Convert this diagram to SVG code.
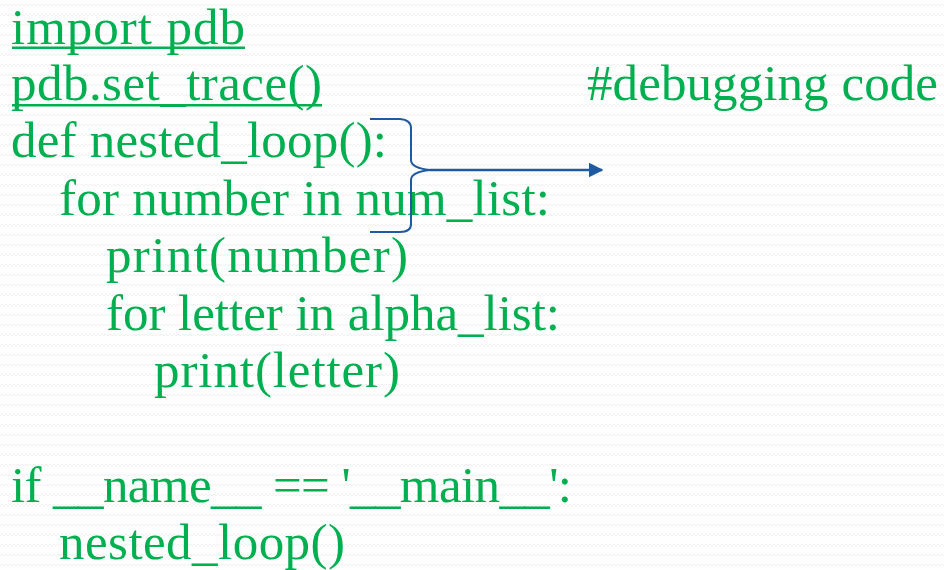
<svg xmlns="http://www.w3.org/2000/svg" width="944" height="570" viewBox="0 0 944 570">
<defs>
<pattern id="bg" width="8" height="10" patternUnits="userSpaceOnUse">
<rect width="8" height="10" fill="#ffffff"/>
<path d="M0 6 L2 4 L4 6 L6 4 L8 6" fill="none" stroke="#f0f0f0" stroke-width="1"/>
</pattern>
<marker id="arrow" viewBox="0 0 10 10" refX="9" refY="5" markerWidth="6" markerHeight="6" markerUnits="strokeWidth" orient="auto">
<path d="M0 0 L10 5 L0 10 Z" fill="#1F5AA0"/>
</marker>
<style>
.code{font-family:"Liberation Serif","Times New Roman",serif;font-size:51px;fill:#00B050;}
.ul{fill:#00B050;}
.brace{fill:none;stroke:#1F5AA0;stroke-width:2;}
.conn{fill:none;stroke:#1F5AA0;stroke-width:2.5;}
</style>
</defs>
<rect width="944" height="570" fill="url(#bg)"/>
<g id="code">
<text class="code" x="11" y="44" textLength="234" lengthAdjust="spacing">import pdb</text>
<rect class="ul" x="12" y="46.5" width="233" height="2.5"/>
<text class="code" x="11" y="100" textLength="311" lengthAdjust="spacing">pdb.set_trace()</text>
<rect class="ul" x="12" y="104" width="310" height="2.5"/>
<text class="code" x="11" y="157" textLength="376" lengthAdjust="spacing">def nested_loop():</text>
<text class="code" x="59" y="215" textLength="491" lengthAdjust="spacing">for number in num_list:</text>
<text class="code" x="106" y="272" textLength="302" lengthAdjust="spacing">print(number)</text>
<text class="code" x="106" y="330" textLength="454" lengthAdjust="spacing">for letter in alpha_list:</text>
<text class="code" x="154" y="387" textLength="246" lengthAdjust="spacing">print(letter)</text>
<text class="code" x="11" y="502" textLength="561" lengthAdjust="spacing">if __name__ == '__main__':</text>
<text class="code" x="59" y="559" textLength="286" lengthAdjust="spacing">nested_loop()</text>
</g>
<g id="comment">
<text class="code" x="587" y="100" textLength="351" lengthAdjust="spacing">#debugging code</text>
</g>
<g id="brace">
<path class="brace" d="M370 119 L400 119 Q411 120 411 128 L411 160 Q411 168 430 170 Q411 172 411 180 L411 224 Q411 232 400 232 L370 232"/>
</g>
<g id="connectors">
<line class="conn" x1="430" y1="170" x2="602" y2="170" marker-end="url(#arrow)"/>
</g>
</svg>
